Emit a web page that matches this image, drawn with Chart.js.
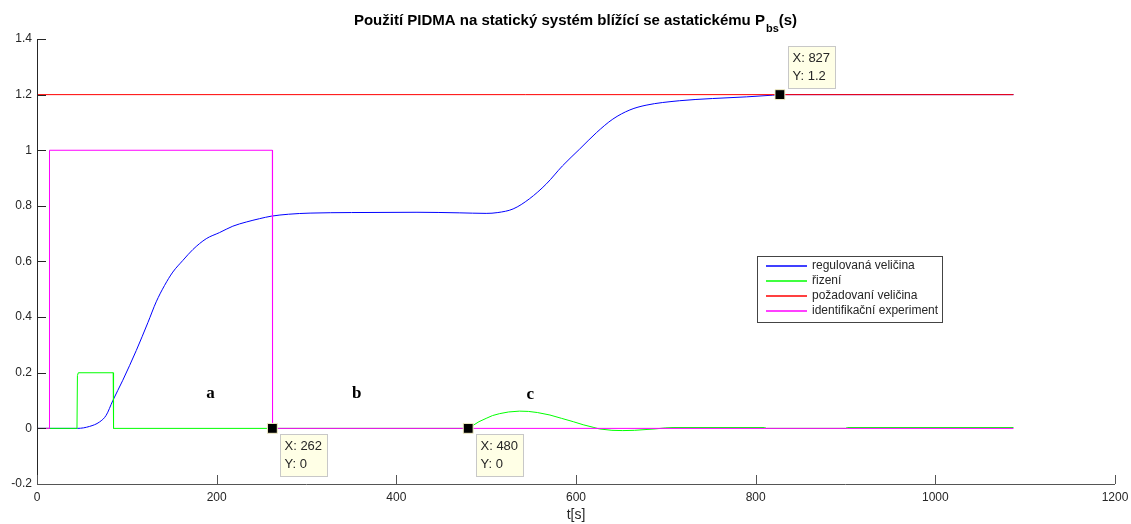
<!DOCTYPE html>
<html>
<head>
<meta charset="utf-8">
<script src="https://cdn.jsdelivr.net/npm/chart.js@4"></script>
<style>
  html, body { margin: 0; padding: 0; background: #fff; }
  #wrap { width: 1131px; height: 524px; position: relative; }
</style>
</head>
<body>
<div id="wrap"><canvas id="Chart"></canvas></div>
<script>
// regulovaná veličina (blue)
const tBlue = [0, 45, 58.5, 69.6, 77, 84.4, 95.5, 110.5, 123.4, 132.7, 142, 151.2, 162.4, 173.5, 188.4, 203.2, 218, 233, 247.8, 260.8, 280, 304, 350, 423, 470, 500, 513, 530, 548, 567, 585, 604, 623, 641, 660, 678, 715, 752, 790, 819, 827, 1087];
const yBlue = [0, 0, 0.007, 0.023, 0.047, 0.1, 0.173, 0.28, 0.38, 0.455, 0.514, 0.562, 0.604, 0.643, 0.682, 0.704, 0.727, 0.742, 0.754, 0.763, 0.77, 0.774, 0.776, 0.777, 0.775, 0.773, 0.776, 0.789, 0.825, 0.879, 0.944, 1.004, 1.064, 1.112, 1.145, 1.162, 1.178, 1.186, 1.192, 1.198, 1.2, 1.2];

// řizení (green)
const tGreen = [0, 44.5, 45, 46, 84.8, 85.2, 480, 485, 492, 500, 507, 515, 525, 537, 547, 557, 571, 584, 597, 608, 619, 626, 640, 652, 665, 688, 700, 708, 810, 812, 900, 902, 1087];
const yGreen = [0, 0, 0.19, 0.2, 0.2, 0, 0, 0.01, 0.024, 0.036, 0.046, 0.053, 0.059, 0.062, 0.061, 0.057, 0.048, 0.036, 0.024, 0.013, 0.004, -0.002, -0.007, -0.008, -0.007, -0.002, 0.002, 0.003, 0.003, 0, 0, 0.003, 0.003];

// požadovaní veličina (red)
const tRed = [0, 1087];
const yRed = [1.2, 1.2];

// identifikační experiment (magenta)
const tPink = [0, 13.4, 13.6, 14.2, 262, 262.2, 1087];
const yPink = [0, 0, 0.9, 1, 1, 0, 0];

// data tips
const tipX = [262, 480, 827];
const tipY = [0, 0, 1.2];

// region labels
const regionText = ["a", "b", "c"];
const regionX = [193, 356, 549];
const regionY = [0.125, 0.125, 0.12];

const xTicks = [0, 200, 400, 600, 800, 1000, 1200];
const yTicks = [-0.2, 0, 0.2, 0.4, 0.6, 0.8, 1, 1.2, 1.4];

const toPts = (xs, ys) => xs.map((x, i) => ({ x: x, y: ys[i] }));

const FONT = "'Liberation Sans', Arial, Helvetica, sans-serif";

const inwardTicks = {
  id: "inwardTicks",
  afterDraw(chart) {
    const c = chart.ctx, a = chart.chartArea;
    const xs = chart.scales.x, ys = chart.scales.y;
    c.save();
    c.lineWidth = 1;
    c.strokeStyle = "#262626";
    c.beginPath();
    c.moveTo(a.left + 0.5, a.top);
    c.lineTo(a.left + 0.5, a.bottom);
    yTicks.forEach((v) => {
      const py = Math.round(ys.getPixelForValue(v)) + 0.5;
      c.moveTo(a.left, py);
      c.lineTo(a.left + 9, py);
    });
    c.stroke();
    c.strokeStyle = "#555";
    c.beginPath();
    c.moveTo(a.left, a.bottom + 0.5);
    c.lineTo(a.right, a.bottom + 0.5);
    xTicks.forEach((v) => {
      const px = Math.round(xs.getPixelForValue(v)) + 0.5;
      c.moveTo(px, a.bottom);
      c.lineTo(px, a.bottom - 9);
    });
    c.stroke();
    c.restore();
  },
};

const titlePlugin = {
  id: "titlePlugin",
  afterDraw(chart) {
    const c = chart.ctx;
    const main = "Použití PIDMA na statický systém blížící se astatickému P";
    const sub = "bs";
    const tail = "(s)";
    c.save();
    c.fillStyle = "#000";
    c.textBaseline = "alphabetic";
    c.font = "bold 15px " + FONT;
    const w1 = c.measureText(main).width;
    const w3 = c.measureText(tail).width;
    c.font = "bold 11px " + FONT;
    const w2 = c.measureText(sub).width;
    const total = w1 + w2 + w3;
    let x = 575 - total / 2;
    c.font = "bold 15px " + FONT;
    c.fillText(main, x, 25);
    x += w1 + 1;
    c.font = "bold 11px " + FONT;
    c.fillText(sub, x, 32);
    x += w2;
    c.font = "bold 15px " + FONT;
    c.fillText(tail, x, 25);
    c.restore();
  },
};

const annotations = {
  id: "annotations",
  afterDatasetsDraw(chart) {
    const c = chart.ctx;
    const xs = chart.scales.x, ys = chart.scales.y;
    c.save();
    // region letters
    c.font = "bold 17px 'Liberation Serif', 'Times New Roman', serif";
    c.fillStyle = "#000";
    c.textAlign = "center";
    c.textBaseline = "middle";
    regionText.forEach((t, i) => {
      c.fillText(t, xs.getPixelForValue(regionX[i]), ys.getPixelForValue(regionY[i]));
    });
    // data tip boxes
    c.font = "13px " + FONT;
    c.textAlign = "left";
    tipX.forEach((tx, i) => {
      const px = xs.getPixelForValue(tx);
      const py = ys.getPixelForValue(tipY[i]);
      const w = 47, h = 42;
      const bx = Math.round(px + 8) + 0.5;
      let by = Math.round(py + 6) + 0.5;
      if (tipY[i] > 1) by = Math.round(py - 7 - h) + 0.5;
      c.fillStyle = "#ffffe6";
      c.strokeStyle = "#c8c8c8";
      c.lineWidth = 1;
      c.fillRect(bx, by, w, h);
      c.strokeRect(bx, by, w, h);
      c.fillStyle = "#262626";
      c.fillText("X: " + tx, bx + 4, by + 12);
      c.fillText("Y: " + tipY[i], bx + 4, by + 30);
    });
    c.restore();
  },
};

const boxLegend = {
  id: "boxLegend",
  afterDraw(chart) {
    const c = chart.ctx;
    const items = chart.data.datasets.filter((d) => !d.hideInLegend);
    const left = 757.5, top = 256.5, w = 185, h = 66;
    c.save();
    c.fillStyle = "#fff";
    c.fillRect(left, top, w, h);
    c.strokeStyle = "#444";
    c.lineWidth = 1;
    c.strokeRect(left, top, w, h);
    c.font = "12px " + FONT;
    c.textBaseline = "middle";
    c.textAlign = "left";
    items.forEach((d, i) => {
      const y = 266 + i * 15;
      c.strokeStyle = d.borderColor;
      c.lineWidth = 1.5;
      c.beginPath();
      c.moveTo(766, y);
      c.lineTo(807, y);
      c.stroke();
      c.fillStyle = "#262626";
      c.fillText(d.label, 812, y);
    });
    c.restore();
  },
};

const ctx = document.getElementById("Chart");

new Chart(ctx, {
  type: "line",
  data: {
    datasets: [
      {
        label: "regulovaná veličina",
        data: toPts(tBlue, yBlue),
        borderColor: "#0000ff",
        borderWidth: 1,
        cubicInterpolationMode: "monotone",
        pointRadius: 0,
        order: 4,
      },
      {
        label: "řizení",
        data: toPts(tGreen, yGreen),
        borderColor: "#00ff00",
        borderWidth: 1,
        tension: 0,
        pointRadius: 0,
        order: 3,
      },
      {
        label: "požadovaní veličina",
        data: toPts(tRed, yRed),
        borderColor: "#ff0000",
        borderWidth: 1,
        pointRadius: 0,
        order: 2,
      },
      {
        label: "identifikační experiment",
        data: toPts(tPink, yPink),
        borderColor: "#ff00ff",
        borderWidth: 1,
        tension: 0,
        pointRadius: 0,
        order: 1,
      },
      {
        label: "tips",
        hideInLegend: true,
        data: toPts(tipX, tipY),
        showLine: false,
        pointStyle: "rect",
        pointRadius: 7,
        backgroundColor: "#000",
        borderColor: "#f5f0c8",
        borderWidth: 1,
        order: 0,
      },
    ],
  },
  options: {
    responsive: true,
    maintainAspectRatio: false,
    animation: false,
    events: [],
    layout: { padding: { top: 39, right: 16, left: 0, bottom: 0 } },
    plugins: {
      legend: { display: false },
      tooltip: { enabled: false },
    },
    scales: {
      x: {
        type: "linear",
        min: 0,
        max: 1200,
        afterFit: (s) => { s.height = 40; s.paddingLeft = 0; s.paddingRight = 0; },
        afterBuildTicks: (s) => { s.ticks = xTicks.map((v) => ({ value: v })); },
        border: { display: false },
        grid: { drawOnChartArea: false, drawTicks: false },
        ticks: {
          padding: 6,
          color: "#262626",
          font: { family: FONT, size: 12 },
          callback: (v) => String(v),
        },
        title: {
          display: true,
          text: "t[s]",
          color: "#262626",
          font: { family: FONT, size: 14 },
          padding: { top: 0, bottom: 0 },
        },
      },
      y: {
        type: "linear",
        min: -0.2,
        max: 1.4,
        afterFit: (s) => { s.width = 37; s.paddingTop = 0; s.paddingBottom = 0; },
        afterBuildTicks: (s) => { s.ticks = yTicks.map((v) => ({ value: v })); },
        border: { display: false },
        grid: { drawOnChartArea: false, drawTicks: false },
        ticks: {
          padding: 5,
          color: "#262626",
          font: { family: FONT, size: 12 },
          callback: (v) => String(Math.round(v * 10) / 10),
        },
      },
    },
  },
  plugins: [inwardTicks, titlePlugin, annotations, boxLegend],
});
</script>
</body>
</html>
